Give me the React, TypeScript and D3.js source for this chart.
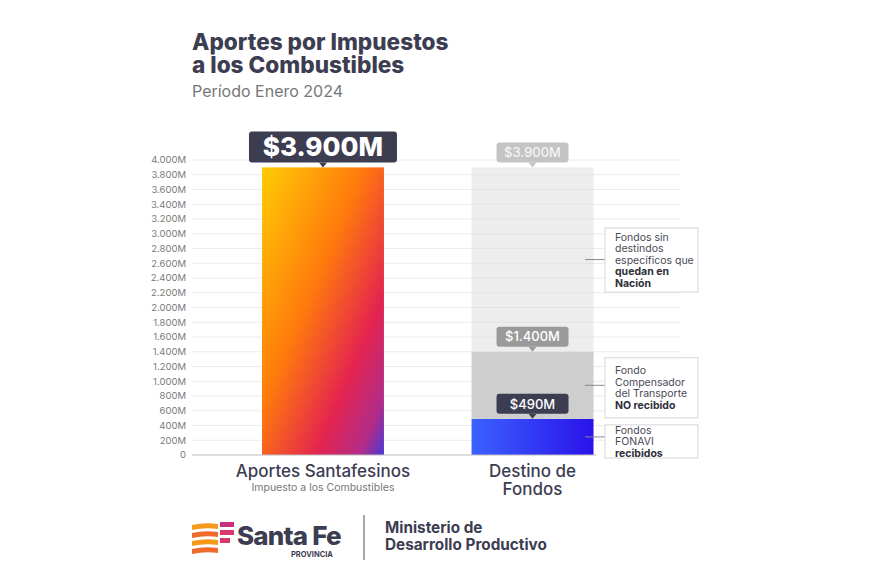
import * as d3 from "d3";

const categories = ["Aportes Santafesinos", "Destino de Fondos"];
const categorySub = ["Impuesto a los Combustibles", ""];
const aportesTotal = 3900;
const destinoNames = ["FONAVI recibidos", "Compensador NO recibido", "Quedan en Nación"];
const destinoValues = [490, 910, 2500];
const destinoLabels = ["$490M", "$1.400M", "$3.900M"];
const yTicks = d3.range(0, 4001, 200);
const annotations = [
  { lines: [["Fondos sin", false], ["destindos", false], ["específicos que", false], ["quedan en", true], ["Nación", true]], from: 1400, to: 3900, mid: 2650 },
  { lines: [["Fondo", false], ["Compensador", false], ["del Transporte", false], ["NO recibido", true]], from: 490, to: 1400, mid: 945 },
  { lines: [["Fondos", false], ["FONAVI", false], ["recibidos", true]], from: 0, to: 490, mid: 245 },
];

const W = 870;
const H = 580;
const FONT = "Inter, 'Noto Sans', sans-serif";
const DARK = "#3d3d52";

function Callout({ cx, bottom, w, h, fill, text, color, size, weight }: any) {
  const top = bottom - h - 5;
  return (
    <g>
      <rect x={cx - w / 2} y={top} width={w} height={h} rx={3} fill={fill} />
      <path d={`M${cx - 4},${top + h} L${cx},${top + h + 5} L${cx + 4},${top + h} Z`} fill={fill} />
      <text x={cx} y={top + h / 2} dy="0.36em" textAnchor="middle" fill={color} fontSize={size} fontWeight={weight}>
        {text}
      </text>
    </g>
  );
}

export default function App() {
  const y = d3.scaleLinear([0, 4000], [455, 160]);
  const x = d3.scaleBand(categories, [192, 663.5]).paddingInner(0.418).paddingOuter(0.334);
  const bw = x.bandwidth();
  const x0 = x(categories[0])!;
  const x1 = x(categories[1])!;
  const fmt = (v: number) => (v === 0 ? "0" : d3.format(",")(v).replace(",", ".") + "M");

  const cum = d3.cumsum(destinoValues);
  const segs = destinoValues.map((v, i) => ({ name: destinoNames[i], y0: cum[i] - v, y1: cum[i] }));
  const segFill = ["url(#blueGrad)", "#cecece", "#d8d8d8"];
  const segOpacity = [1, 1, 0.45];
  const boxFill = [DARK, "#9a9a9a", "#c4c4c4"];
  const boxText = ["#ffffff", "#ffffff", "#f4f4f4"];

  const annX = 605;
  const annW = 93;

  return (
    <svg width={W} height={H} style={{ position: "absolute", left: 0, top: 0, background: "#fff" }} fontFamily={FONT}>
      <defs>
        <linearGradient id="mainGrad" x1="0" y1="0" x2="1" y2="1">
          <stop offset="0" stopColor="#ffcc05" />
          <stop offset="0.42" stopColor="#ff7a0c" />
          <stop offset="0.72" stopColor="#e4244f" />
          <stop offset="0.9" stopColor="#b22c88" />
          <stop offset="1" stopColor="#4a38d6" />
        </linearGradient>
        <linearGradient id="blueGrad" x1="0" y1="0" x2="1" y2="0">
          <stop offset="0" stopColor="#3b62ff" />
          <stop offset="1" stopColor="#2a12ea" />
        </linearGradient>
      </defs>

      {/* title */}
      <text x={192} y={50} fontSize={22.6} fontWeight={800} fill={DARK}>Aportes por Impuestos</text>
      <text x={192} y={73} fontSize={22.6} fontWeight={800} fill={DARK}>a los Combustibles</text>
      <text x={192} y={97} fontSize={16} fill="#777">Período Enero 2024</text>

      {/* grid */}
      <g>
        {yTicks.map((t) => (
          <g key={t}>
            {t > 0 && <line x1={192} x2={680} y1={y(t)} y2={y(t)} stroke="#ececec" strokeWidth={1} />}
            <text x={186} y={y(t)} dy="0.35em" textAnchor="end" fontSize={9.5} fill="#7a7a7a">
              {fmt(t)}
            </text>
          </g>
        ))}
      </g>

      {/* left bar */}
      <rect x={x0} y={y(aportesTotal)} width={bw} height={y(0) - y(aportesTotal)} fill="url(#mainGrad)" />

      {/* right stacked bar */}
      {segs.map((s, i) => (
        <rect key={s.name} x={x1} y={y(s.y1)} width={bw} height={y(s.y0) - y(s.y1)} fill={segFill[i]} fillOpacity={segOpacity[i]} />
      ))}

      <line x1={192} x2={596} y1={y(0)} y2={y(0)} stroke="#bdbdbd" strokeWidth={1.2} />

      {/* callouts */}
      <Callout cx={x0 + bw / 2} bottom={y(aportesTotal)} w={148} h={31} fill={DARK} text="$3.900M" color="#fff" size={26} weight={800} />
      {segs.map((s, i) => (
        <Callout key={i} cx={x1 + bw / 2} bottom={y(s.y1)} w={72} h={20} fill={boxFill[i]} text={destinoLabels[i]} color={boxText[i]} size={13} weight={500} />
      ))}

      {/* annotations */}
      {annotations.map((a, i) => {
        const top = i === 0 ? 228 : y(a.to) + 6;
        const bottom = i === 0 ? 292 : y(a.from) + (i === 2 ? 3 : -1);
        const lh = 11.5;
        const n = a.lines.length;
        const cy = (top + bottom) / 2;
        const startY = cy - ((n - 1) * lh) / 2;
        return (
          <g key={i}>
            <line x1={585} x2={annX} y1={y(a.mid)} y2={y(a.mid)} stroke="#8a8a8a" strokeWidth={1} />
            <rect x={annX} y={top} width={annW} height={bottom - top} fill="#fff" stroke="#d6d6d6" strokeWidth={1} />
            {a.lines.map((l: any, j: number) => (
              <text key={j} x={annX + 10} y={startY + j * lh} dy="0.35em" fontSize={10.5} fill={l[1] ? "#2e2e3a" : "#4a4a55"} fontWeight={l[1] ? 700 : 400}>
                {l[0]}
              </text>
            ))}
          </g>
        );
      })}

      {/* category labels */}
      <text x={x0 + bw / 2} y={477} textAnchor="middle" fontSize={17} fontWeight={500} fill={DARK}>{categories[0]}</text>
      <text x={x0 + bw / 2} y={491} textAnchor="middle" fontSize={10.5} fill="#777">{categorySub[0]}</text>
      <text x={x1 + bw / 2} y={477} textAnchor="middle" fontSize={17} fontWeight={500} fill={DARK}>Destino de</text>
      <text x={x1 + bw / 2} y={495} textAnchor="middle" fontSize={17} fontWeight={500} fill={DARK}>Fondos</text>

      {/* footer logo */}
      <g>
        {[0, 1, 2, 3].map((r) => (
          <path
            key={r}
            d={`M${192},${523 + r * 8 + 2} Q${205},${523 + r * 8 - 1} ${218},${523 + r * 8 + 1} L${218},${523 + r * 8 + 6} Q${205},${523 + r * 8 + 4} ${192},${523 + r * 8 + 7} Z`}
            fill={r % 2 === 0 ? "#f59a1c" : "#ef6a2c"}
          />
        ))}
        {[0, 1, 2].map((r) => (
          <rect key={r} x={220} y={522 + r * 8} width={r === 2 ? 10 : 14} height={5} fill={r === 0 ? "#c8307c" : "#d8386a"} />
        ))}
        <text x={237} y={545} fontSize={26} fontWeight={800} fill={DARK} letterSpacing={-0.8}>Santa Fe</text>
        <text x={291} y={557} fontSize={7.5} fontWeight={700} fill={DARK}>PROVINCIA</text>
        <line x1={364} x2={364} y1={515} y2={560} stroke="#555" strokeWidth={1} />
        <text x={385} y={533} fontSize={15.3} fontWeight={700} fill={DARK}>Ministerio de</text>
        <text x={385} y={550} fontSize={15.3} fontWeight={700} fill={DARK}>Desarrollo Productivo</text>
      </g>
    </svg>
  );
}
